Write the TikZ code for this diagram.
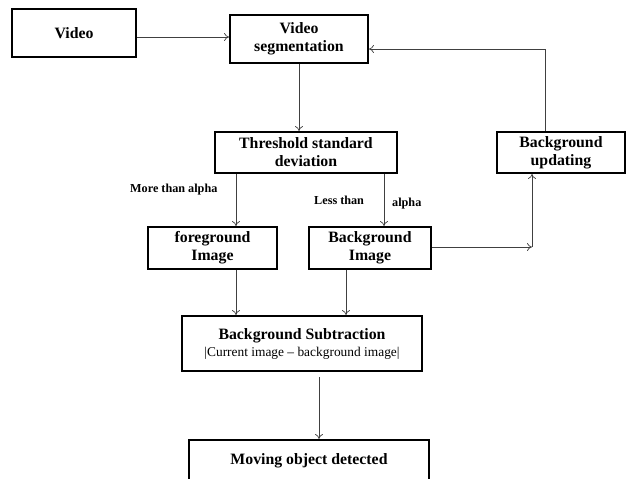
\documentclass[tikz,border=0pt]{standalone}
\usepackage{fontspec}
\setmainfont{Liberation Serif}
\usetikzlibrary{arrows.meta,calc}
\begin{document}
\begin{tikzpicture}[x=1pt,y=-1pt,
  box/.style={draw=black,line width=1.8pt,align=center,inner sep=0pt,font=\fontsize{15.8}{18}\selectfont\bfseries},
  conn/.style={draw=black!75,line width=0.7pt,-{To[length=5pt,width=8pt]}},
  plain/.style={draw=black!75,line width=0.7pt},
  lbl/.style={font=\fontsize{12.2}{14}\selectfont\bfseries,inner sep=0pt}]
\useasboundingbox (0,0) rectangle (630,479);
\fill[white] (0,0) rectangle (630,479);
\node[box,minimum width=124pt,minimum height=48pt] (video) at (74,33) {Video};
\node[box,minimum width=138pt,minimum height=48pt] (vseg) at (299,39) {Video\\segmentation};
\node[box,minimum width=182pt,minimum height=41pt] (thr) at (306,152.5) {Threshold standard\\deviation};
\node[box,minimum width=128pt,minimum height=41pt] (bgupd) at (561,152.5) {Background\\updating};
\node[box,minimum width=129pt,minimum height=42pt] (fg) at (212.5,248) {foreground\\Image};
\node[box,minimum width=122pt,minimum height=42pt] (bgimg) at (370,248) {Background\\Image};
\node[box,minimum width=240pt,minimum height=55pt] (sub) at (302,343.5) {Background Subtraction\\[-1pt]{\fontsize{13.4}{15}\selectfont\mdseries |Current image -- background image|}};
\node[box,minimum width=240pt,minimum height=60pt,anchor=north] (mov) at (309,439) {};
\node[font=\fontsize{15.8}{18}\selectfont\bfseries] (movtxt) at (309,461) {Moving object detected};
\node[lbl,anchor=west] (l1) at (130,190) {More than alpha};
\node[lbl,anchor=west] (l2) at (314,200) {Less than};
\node[lbl,anchor=west] (l3) at (392,204) {alpha};
% connectors
\draw[conn] (video.east |- 0,37) -- (vseg.west |- 0,37);
\draw[conn] (vseg.south) -- (thr.north -| vseg.south);
\draw[conn] (thr.south -| 236,0) -- (fg.north -| 236,0);
\draw[conn] (thr.south -| 384,0) -- (bgimg.north -| 384,0);
\coordinate (corner) at (532,247);
\draw[conn] (bgimg.east |- corner) -- (corner);
\draw[conn] (corner) -- (bgupd.south -| corner);
\coordinate (fbtop) at (545,49);
\draw[plain] (bgupd.north -| fbtop) -- (fbtop);
\draw[conn] (fbtop) -- (vseg.east |- fbtop);
\draw[conn] (fg.south -| 236,0) -- (sub.north -| 236,0);
\draw[conn] (bgimg.south -| 346,0) -- (sub.north -| 346,0);
\coordinate (substart) at (319,377);
\draw[conn] (substart) -- (mov.north -| substart);
\end{tikzpicture}
\end{document}
